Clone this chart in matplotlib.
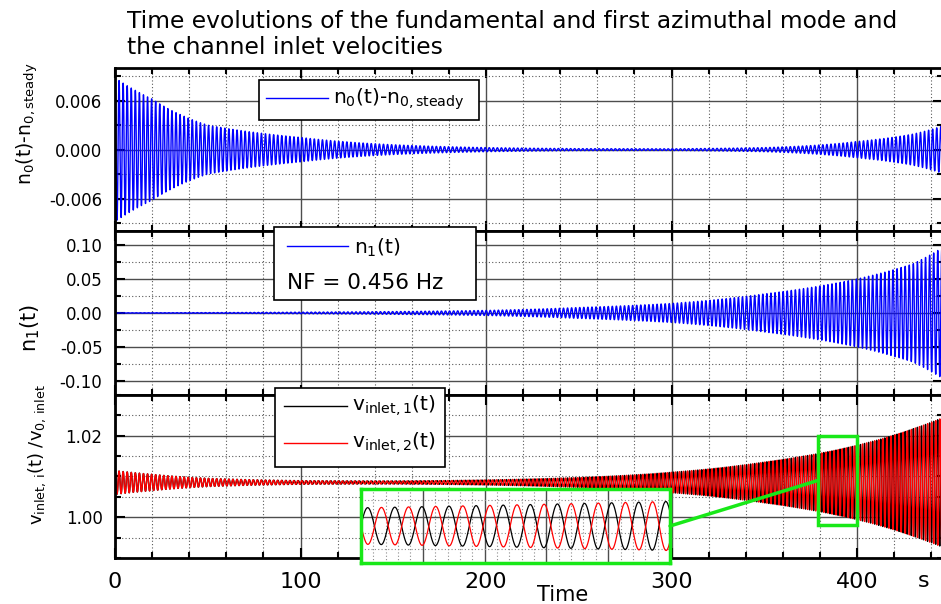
import numpy as np
import matplotlib
matplotlib.use("Agg")
import matplotlib.pyplot as plt
from matplotlib.patches import Rectangle, ConnectionPatch
from matplotlib.lines import Line2D
from matplotlib.ticker import MultipleLocator, FormatStrFormatter, FixedLocator

plt.rcParams['font.family'] = ['DejaVu Sans']
plt.rcParams['axes.unicode_minus'] = False
plt.rcParams['path.simplify'] = False
plt.rcParams['mathtext.default'] = 'regular'

# ==================== 数据====================
NF = 0.456  # Hz, 图例中给出的频率
t_env = [0, 20, 50, 100, 150, 200, 250, 300, 350, 400, 430, 446]
# 各条曲线的包络（振幅），按 t_env 读取
n0_env = [0.0088, 0.0062, 0.0030, 0.0015, 0.0006, 0.00025, 0.00012, 0.0001, 0.00025, 0.0010, 0.0019, 0.0029]
n1_env = [0.0002, 0.0003, 0.0005, 0.0011, 0.0020, 0.0037, 0.0080, 0.0140, 0.0280, 0.0500, 0.0720, 0.0960]
v_inphase_env = [0.0029, 0.0020, 0.0010, 0.0004, 0.0002, 0.0001, 0.00005, 0.00003, 0.0001, 0.0003, 0.0006, 0.0009]
v_anti_env = [0.00003, 0.00005, 0.0001, 0.0002, 0.0003, 0.0006, 0.0012, 0.0025, 0.0050, 0.0091, 0.0131, 0.0158]
v_mean = 1.0085
v_start = 1.031   # t=0 时的尖峰

zoom_t = (379, 400)
zoom_v = (0.998, 1.020)
inset_t = (375, 400)
inset_v = (0.9948, 1.0222)

title = "Time evolutions of the fundamental and first azimuthal mode and\nthe channel inlet velocities"

# ==================== 信号 ====================
t = np.arange(0, 446.5, 0.04)
def env(vals):
    return np.exp(np.interp(t, t_env, np.log(vals)))

carrier = np.cos(2 * np.pi * NF * t)
carrier1 = np.sin(2 * np.pi * NF * t)
n0 = env(n0_env) * carrier
n1 = env(n1_env) * carrier1
v1 = v_mean + env(v_inphase_env) * carrier + env(v_anti_env) * carrier1
v2 = v_mean + env(v_inphase_env) * carrier - env(v_anti_env) * carrier1
v1[0] = v_start
v2[0] = v_start

# ==================== 版面 ====================
W, H = 941, 604
fig = plt.figure(figsize=(W / 100, H / 100), dpi=100)

def fx(px):
    return px / W

def fy(py):
    return 1 - py / H

left_px, right_px = 115, 943
px_per_unit = 1.855
xmax = (right_px - left_px) / px_per_unit
tops = [68, 231.3, 394.7]
ph = 163.3

axes = []
for top in tops:
    ax = fig.add_axes([fx(left_px), fy(top + ph), (right_px - left_px) / W, ph / H])
    axes.append(ax)
ax1, ax2, ax3 = axes

grn = '#18e818'

for ax in axes:
    ax.set_xlim(0, xmax)
    ax.xaxis.set_major_locator(MultipleLocator(100))
    ax.xaxis.set_minor_locator(MultipleLocator(20))
    ax.tick_params(which='both', direction='in', top=True, right=True, width=1.5)
    ax.tick_params(which='major', length=7)
    ax.tick_params(which='minor', length=4.5)
    ax.tick_params(axis='y', labelsize=12, pad=9)
    ax.tick_params(axis='x', labelsize=16, pad=10)
    ax.grid(which='major', color='0.3', lw=1.0, ls='-')
    ax.grid(which='minor', color='0.35', lw=0.8, ls=(0, (1, 2)))
    ax.set_axisbelow(True)
    for sp in ax.spines.values():
        sp.set_linewidth(2)

ax1.tick_params(axis='x', labelbottom=False)
ax2.tick_params(axis='x', labelbottom=False)

# panel 1
ax1.plot(t, n0, color='#0000ff', lw=1.0)
ax1.set_ylim(-0.01, 0.01)
ax1.yaxis.set_major_locator(MultipleLocator(0.006))
ax1.yaxis.set_minor_locator(MultipleLocator(0.003))
ax1.yaxis.set_major_formatter(FormatStrFormatter('%.3f'))

# panel 2
ax2.plot(t, n1, color='#0000ff', lw=1.0)
ax2.set_ylim(-0.12, 0.12)
ax2.yaxis.set_minor_locator(MultipleLocator(0.025))
ax2.set_yticks([-0.10, -0.05, 0.0, 0.05, 0.10])
ax2.yaxis.set_major_formatter(FormatStrFormatter('%.2f'))

# panel 3
ax3.plot(t, v1, color='black', lw=1.0)
ax3.plot(t, v2, color='#ff0000', lw=1.0)
ax3.set_ylim(0.99, 1.03)
ax3.set_yticks([1.00, 1.02])
ax3.yaxis.set_minor_locator(MultipleLocator(0.005))
ax3.yaxis.set_major_formatter(FormatStrFormatter('%.2f'))
ax3.set_xticks([0, 100, 200, 300, 400])
ax3.set_xticklabels(['0', '100', '200', '300', '400'])

ax3.add_patch(Rectangle((zoom_t[0], zoom_v[0]), zoom_t[1] - zoom_t[0], zoom_v[1] - zoom_v[0],
                        fill=False, ec=grn, lw=2.5, zorder=5))

# inset
ins = fig.add_axes([fx(361), fy(563), 309 / W, 74 / H])
ins.plot(t, v1, color='black', lw=0.9)
ins.plot(t, v2, color='#ff0000', lw=0.9)
ins.set_xlim(*inset_t)
ins.set_ylim(*inset_v)
ins.xaxis.set_major_locator(MultipleLocator(5))
ins.xaxis.set_minor_locator(MultipleLocator(1))
ins.yaxis.set_major_locator(FixedLocator([1.012]))
ins.yaxis.set_minor_locator(FixedLocator([1.000, 1.006, 1.018]))
ins.tick_params(which='both', length=0, labelbottom=False, labelleft=False)
ins.grid(which='major', color='0.3', lw=1.0, ls='-')
ins.grid(which='minor', color='0.55', lw=0.8, ls=(0, (1, 2)))
ins.set_axisbelow(True)
for sp in ins.spines.values():
    sp.set_color(grn)
    sp.set_linewidth(2.5)

con = ConnectionPatch(xyA=(1, 0.5), coordsA=ins.transAxes,
                      xyB=(zoom_t[0], (zoom_v[0] + zoom_v[1]) / 2), coordsB=ax3.transData,
                      color=grn, lw=2.5, zorder=6)
fig.add_artist(con)

# ==================== 图例框 ====================
def legend_box(x0, y0, x1, y1):
    fig.add_artist(Rectangle((fx(x0), fy(y1)), (x1 - x0) / W, (y1 - y0) / H,
                             transform=fig.transFigure, fc='white', ec='black', lw=1.2, zorder=8))

def legend_line(x0, x1, y, color):
    fig.add_artist(Line2D([fx(x0), fx(x1)], [fy(y), fy(y)], transform=fig.transFigure,
                          color=color, lw=1.0, zorder=9))

def legend_text(x, y, s, size=14):
    fig.text(fx(x), fy(y), s, ha='left', va='center', fontsize=size, zorder=10)

legend_box(259, 80, 479, 120)
legend_line(266, 328, 98, '#0000ff')
legend_text(333, 99, r'$n_0(t)$-$n_{0,steady}$', size=14.5)

legend_box(274, 227, 476, 300)
legend_line(287, 348, 246, '#0000ff')
legend_text(354, 248, r'$n_1(t)$', size=14.5)
legend_text(287, 283, 'NF = 0.456 Hz', size=15.5)

legend_box(275, 388, 445, 467)
legend_line(284, 347, 406, 'black')
legend_line(284, 347, 443, '#ff0000')
legend_text(352, 406, r'$v_{inlet,1}(t)$', size=14.5)
legend_text(352, 443, r'$v_{inlet,2}(t)$', size=14.5)

# ==================== 文字 ====================
fig.text(fx(127), fy(10), title, ha='left', va='top', fontsize=16.8, linespacing=1.15)
fig.text(fx(27), fy(124), r'$n_0(t)$-$n_{0,steady}$', rotation=90, ha='center', va='center', fontsize=13.5)
fig.text(fx(30), fy(328), r'$n_1(t)$', rotation=90, ha='center', va='center', fontsize=15)
fig.text(fx(37), fy(455), r'$v_{inlet,\,i}(t)\ /v_{0,\,inlet}$', rotation=90, ha='center', va='center', fontsize=13)
fig.text(fx(563), fy(595), 'Time', ha='center', va='center', fontsize=15)
fig.text(fx(924), fy(587), 's', ha='center', va='baseline', fontsize=16)

fig.savefig('out.png', dpi=100, facecolor='white')
